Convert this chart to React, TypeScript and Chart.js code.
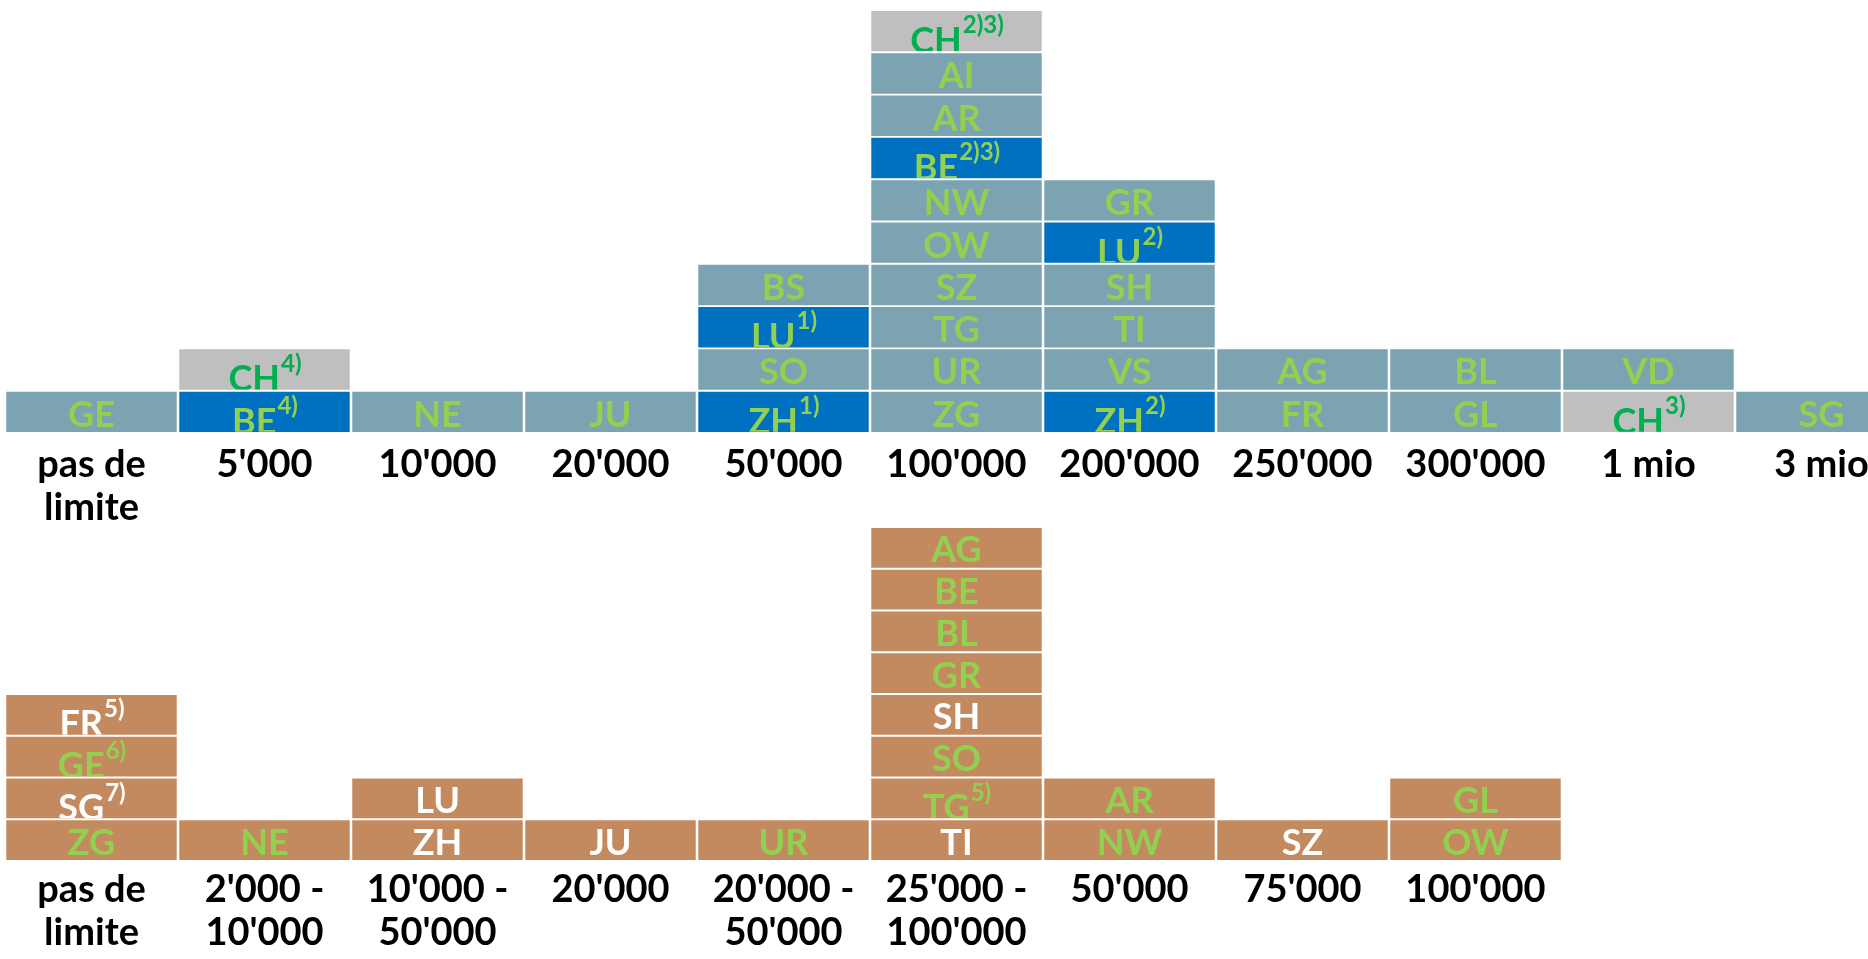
import React, { useEffect, useRef } from 'react';
import { Chart, registerables } from 'chart.js';

Chart.register(...registerables);

// ---------- data ----------
// Top table: upper threshold categories
const topCategories: (string | string[])[] = [
  ['pas de', 'limite'], "5'000", "10'000", "20'000", "50'000", "100'000",
  "200'000", "250'000", "300'000", '1 mio', '3 mio',
];
// cells of each column, listed bottom → top; "^" introduces a footnote mark
const topCells: string[][] = [
  ['GE'],
  ['BE^4)', 'CH^4)'],
  ['NE'],
  ['JU'],
  ['ZH^1)', 'SO', 'LU^1)', 'BS'],
  ['ZG', 'UR', 'TG', 'SZ', 'OW', 'NW', 'BE^2)3)', 'AR', 'AI', 'CH^2)3)'],
  ['ZH^2)', 'VS', 'TI', 'SH', 'LU^2)', 'GR'],
  ['FR', 'AG'],
  ['GL', 'BL'],
  ['CH^3)', 'VD'],
  ['SG'],
];

// Bottom table
const bottomCategories: (string | string[])[] = [
  ['pas de', 'limite'], ["2'000 -", "10'000"], ["10'000 -", "50'000"], "20'000",
  ["20'000 -", "50'000"], ["25'000 -", "100'000"], "50'000", "75'000", "100'000",
];
const bottomCells: string[][] = [
  ['ZG', 'SG^7)', 'GE^6)', 'FR^5)'],
  ['NE'],
  ['ZH', 'LU'],
  ['JU'],
  ['UR'],
  ['TI', 'TG^5)', 'SO', 'SH', 'GR', 'BL', 'BE', 'AG'],
  ['NW', 'AR'],
  ['SZ'],
  ['OW', 'GL'],
];
// cantons written in white in the bottom table
const bottomWhiteLabels = ['SG^7)', 'FR^5)', 'ZH', 'LU', 'JU', 'TI', 'SH', 'SZ'];

// ---------- styles ----------
const FONT = 'Lato, "DejaVu Sans", sans-serif';
const C_TEAL = '#7BA3B1';
const C_BLUE = '#0070C0';
const C_GREY = '#BFBFBF';
const C_BROWN = '#C48A5F';
const T_LIGHTGREEN = '#92D050';
const T_GREEN = '#00B050';
const T_WHITE = '#FFFFFF';
const BW = { top: 1.3, bottom: 1.3, left: 1.6, right: 1.6 };

type Styler = (label: string) => { bg: string; fg: string };

const topStyle: Styler = (label) => {
  if (label.startsWith('CH')) return { bg: C_GREY, fg: T_GREEN };
  if (label.includes('^')) return { bg: C_BLUE, fg: T_LIGHTGREEN };
  return { bg: C_TEAL, fg: T_LIGHTGREEN };
};
const bottomStyle: Styler = (label) => ({
  bg: C_BROWN,
  fg: bottomWhiteLabels.includes(label) ? T_WHITE : T_LIGHTGREEN,
});

const cellLabelPlugin = {
  id: 'cellLabels',
  afterDatasetsDraw(chart: any) {
    const ctx: CanvasRenderingContext2D = chart.ctx;
    chart.data.datasets.forEach((ds: any, di: number) => {
      const meta = chart.getDatasetMeta(di);
      meta.data.forEach((el: any, i: number) => {
        const label: string | null = ds.cellLabels[i];
        if (!label) return;
        const colors = ds.cellColors[i];
        const left = el.x - el.width / 2 + BW.left;
        const right = el.x + el.width / 2 - BW.right;
        const top = Math.min(el.y, el.base) + BW.top;
        const bottom = Math.max(el.y, el.base) - BW.bottom;
        const [main, sup] = label.split('^');
        ctx.save();
        ctx.beginPath();
        ctx.rect(left, top, right - left, bottom - top);
        ctx.clip();
        ctx.fillStyle = colors.fg;
        ctx.textAlign = 'left';
        ctx.textBaseline = 'alphabetic';
        ctx.font = `bold 36px ${FONT}`;
        const w1 = ctx.measureText(main).width;
        let w2 = 0;
        if (sup) {
          ctx.font = `bold 24px ${FONT}`;
          w2 = ctx.measureText(sup).width;
        }
        const x0 = el.x - (w1 + w2) / 2;
        ctx.font = `bold 36px ${FONT}`;
        ctx.fillText(main, x0, sup ? bottom + 2 : bottom - 5);
        if (sup) {
          ctx.font = `bold 24px ${FONT}`;
          ctx.fillText(sup, x0 + w1 + 1, top + 22);
        }
        ctx.restore();
      });
    });
  },
};

function buildConfig(categories: (string | string[])[], cells: string[][], styler: Styler, levels: number, tickPad: number): any {
  const datasets = [];
  for (let lv = 0; lv < levels; lv++) {
    const labels = cells.map((col) => (col[lv] !== undefined ? col[lv] : null));
    const colors = labels.map((l) => (l ? styler(l) : { bg: 'rgba(0,0,0,0)', fg: '#000' }));
    datasets.push({
      label: `level ${lv + 1}`,
      data: labels.map((l) => (l ? 1 : null)),
      backgroundColor: colors.map((c) => c.bg),
      borderColor: '#FFFFFF',
      borderWidth: BW,
      borderSkipped: false,
      barPercentage: 1,
      categoryPercentage: 1,
      cellLabels: labels,
      cellColors: colors,
    });
  }
  return {
    type: 'bar',
    data: { labels: categories, datasets },
    options: {
      animation: false,
      responsive: true,
      maintainAspectRatio: false,
      layout: { padding: 0 },
      plugins: { legend: { display: false }, tooltip: { enabled: false }, title: { display: false } },
      scales: {
        x: {
          stacked: true,
          grid: { display: false, drawTicks: false },
          border: { display: false },
          ticks: {
            color: '#000000',
            font: { family: FONT, size: 38, weight: 'bold', lineHeight: 1.13 },
            padding: tickPad,
            autoSkip: false,
            maxRotation: 0,
            minRotation: 0,
          },
          afterFit: (scale: any) => {
            scale.height = 98;
          },
        },
        y: { stacked: true, display: false, min: 0, max: levels },
      },
    },
    plugins: [cellLabelPlugin],
  };
}

function ChartBox({ config, style }: { config: any; style: React.CSSProperties }) {
  const ref = useRef<HTMLCanvasElement | null>(null);
  useEffect(() => {
    if (!ref.current) return;
    const chart = new Chart(ref.current, config);
    return () => chart.destroy();
  }, [config]);
  return (
    <div style={{ position: 'absolute', ...style }}>
      <canvas ref={ref} />
    </div>
  );
}

const COL_W = 173;
const topConfig = buildConfig(topCategories, topCells, topStyle, 10, 10.5);
const bottomConfig = buildConfig(bottomCategories, bottomCells, bottomStyle, 8, 7.5);

export default function App() {
  return (
    <div style={{ position: 'absolute', left: 0, top: 0, width: 1868, height: 959, overflow: 'hidden', background: '#FFFFFF' }}>
      <ChartBox config={topConfig} style={{ left: 5, top: 10, width: COL_W * topCategories.length, height: 423 + 98 }} />
      <ChartBox config={bottomConfig} style={{ left: 5, top: 527, width: COL_W * bottomCategories.length, height: 334 + 98 }} />
    </div>
  );
}
